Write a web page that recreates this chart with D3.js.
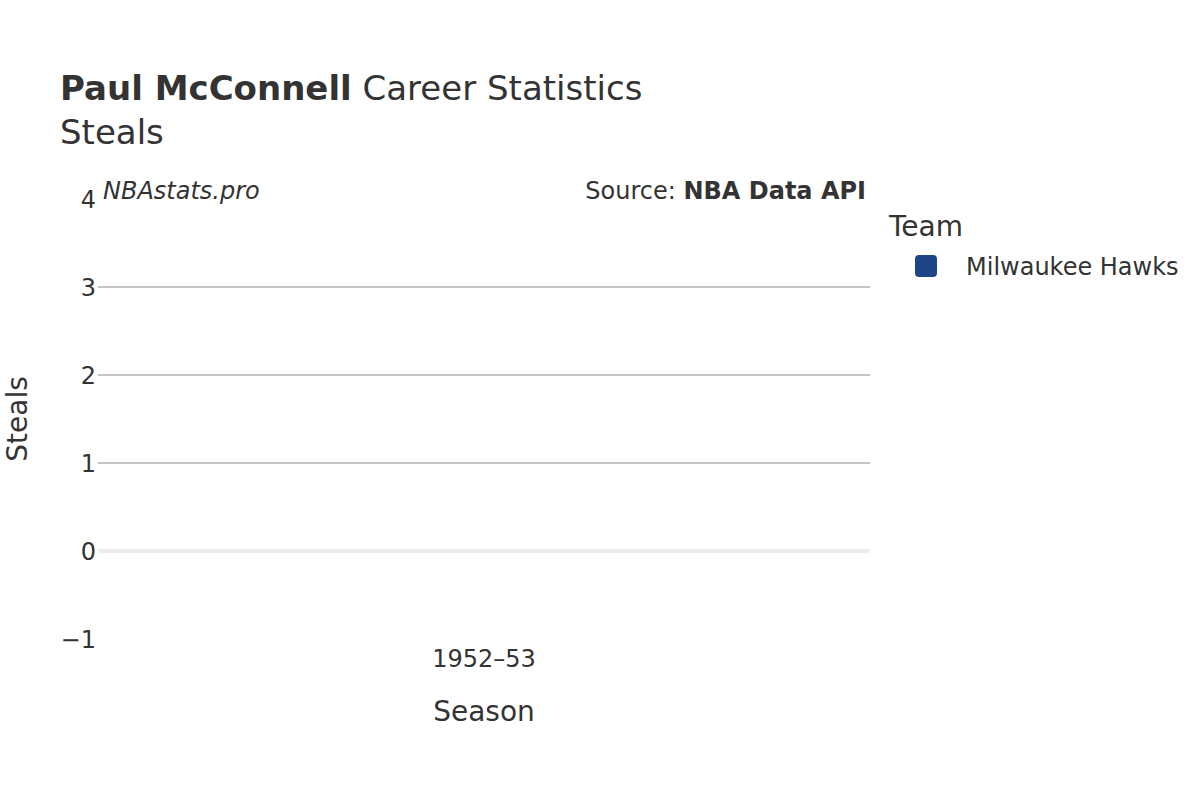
<!DOCTYPE html>
<html>
<head>
<meta charset="utf-8">
<style>
  body { margin: 0; background: #fff; }
  svg text { font-family: "DejaVu Sans", sans-serif; fill: #333; }
</style>
</head>
<body>
<script src="https://cdn.jsdelivr.net/npm/d3@7"></script>
<div id="chart"></div>
<script>
// data
var seasons = ["1952–53"];
var steals = [null]; // no steals recorded that season
var teams = ["Milwaukee Hawks"];
var teamColors = ["#1f4589"];
var yTicks = [-1, 0, 1, 2, 3, 4];

var width = 1200, height = 800;
var plot = {left: 98, right: 870, top: 199, bottom: 639};

var svg = d3.select("#chart").append("svg")
    .attr("width", width)
    .attr("height", height);

var x = d3.scaleBand()
    .domain(seasons)
    .range([plot.left, plot.right]);

var y = d3.scaleLinear()
    .domain([-1, 4])
    .range([plot.bottom, plot.top]);

// grid lines (not at the edges)
svg.append("g").selectAll("line")
    .data(yTicks.filter(function(d) { return d > -1 && d < 4 && d !== 0; }))
    .enter().append("line")
    .attr("x1", plot.left).attr("x2", plot.right)
    .attr("y1", function(d) { return y(d); })
    .attr("y2", function(d) { return y(d); })
    .attr("stroke", "#c4c4c4")
    .attr("stroke-width", 2);

// zero line
svg.append("line")
    .attr("x1", plot.left).attr("x2", plot.right)
    .attr("y1", y(0)).attr("y2", y(0))
    .attr("stroke", "#ececec")
    .attr("stroke-width", 4);

// y tick labels
svg.append("g").selectAll("text")
    .data(yTicks)
    .enter().append("text")
    .attr("x", plot.left - 2)
    .attr("y", function(d) { return y(d) + 8.5; })
    .attr("text-anchor", "end")
    .style("font-size", "24px")
    .text(function(d) { return d < 0 ? "−" + Math.abs(d) : d; });

// x tick labels
svg.append("g").selectAll("text")
    .data(seasons)
    .enter().append("text")
    .attr("x", function(d) { return x(d) + x.bandwidth() / 2; })
    .attr("y", 667)
    .attr("text-anchor", "middle")
    .style("font-size", "24px")
    .text(function(d) { return d; });

// bars (nothing drawn where the value is missing)
svg.append("g").selectAll("rect")
    .data(seasons.map(function(s, i) { return {season: s, value: steals[i]}; })
        .filter(function(d) { return d.value != null; }))
    .enter().append("rect")
    .attr("x", function(d) { return x(d.season) + x.bandwidth() * 0.1; })
    .attr("width", x.bandwidth() * 0.8)
    .attr("y", function(d) { return y(Math.max(0, d.value)); })
    .attr("height", function(d) { return Math.abs(y(d.value) - y(0)); })
    .attr("fill", teamColors[0]);

// titles
var title = svg.append("text").attr("x", 60).attr("y", 100).style("font-size", "34px");
title.append("tspan").style("font-weight", "bold").text("Paul McConnell");
title.append("tspan").text(" Career Statistics");

svg.append("text").attr("x", 60).attr("y", 144).style("font-size", "34px").text("Steals");

// watermark and source
svg.append("text")
    .attr("x", 103).attr("y", 199)
    .style("font-size", "24px")
    .style("font-style", "italic")
    .text("NBAstats.pro");

var src = svg.append("text")
    .attr("x", 866).attr("y", 199)
    .attr("text-anchor", "end")
    .style("font-size", "24px");
src.append("tspan").text("Source: ");
src.append("tspan").style("font-weight", "bold").text("NBA Data API");

// axis titles
svg.append("text")
    .attr("x", 484).attr("y", 721)
    .attr("text-anchor", "middle")
    .style("font-size", "28px")
    .text("Season");

svg.append("text")
    .attr("transform", "translate(27,419) rotate(-90)")
    .attr("text-anchor", "middle")
    .style("font-size", "28px")
    .text("Steals");

// legend
svg.append("text")
    .attr("x", 889).attr("y", 236)
    .style("font-size", "28px")
    .text("Team");

var legend = svg.append("g").selectAll("g")
    .data(teams)
    .enter().append("g")
    .attr("transform", function(d, i) { return "translate(0," + (i * 36) + ")"; });

legend.append("rect")
    .attr("x", 915).attr("y", 255)
    .attr("width", 22).attr("height", 22)
    .attr("rx", 4)
    .attr("fill", function(d, i) { return teamColors[i]; });

legend.append("text")
    .attr("x", 966).attr("y", 275)
    .style("font-size", "24px")
    .text(function(d) { return d; });
</script>
</body>
</html>
